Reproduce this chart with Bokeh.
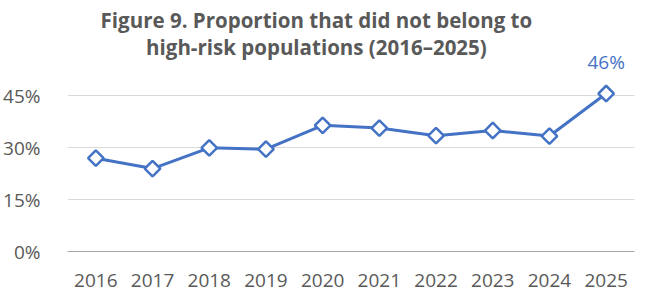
from bokeh.plotting import figure
from bokeh.models import ColumnDataSource, Range1d, FixedTicker, PrintfTickFormatter, Label
from bokeh.core.properties import value
from bokeh.embed import file_html
from bokeh.resources import INLINE

years = ["2016", "2017", "2018", "2019", "2020", "2021", "2022", "2023", "2024", "2025"]
proportion = [27, 24, 30, 29.6, 36.5, 35.7, 33.5, 35.0, 33.4, 45.7]
y_ticks = [0, 15, 30, 45]
title_lines = ["Figure 9. Proportion that did not belong to", "high-risk populations (2016\u20132025)"]

FONT = "Open Sans"
BLUE = "#4472C4"
GRAY = "#595959"

src = ColumnDataSource(dict(x=years, y=proportion))
last = ColumnDataSource(dict(x=[years[-1]], y=[proportion[-1]], t=[f"{round(proportion[-1])}%"]))

p = figure(width=656, height=293, x_range=years, y_range=Range1d(0, 70.3),
           output_backend="svg", toolbar_location=None,
           min_border_left=65, min_border_right=22, min_border_top=8, min_border_bottom=42)
p.x_range.range_padding = 0
p.outline_line_color = None
p.background_fill_color = "white"

p.line("x", "y", source=src, line_color=BLUE, line_width=3)
p.scatter("x", "y", source=src, marker="square", angle=0.785398, size=11,
          fill_color="white", line_color=BLUE, line_width=2.5)
p.text("x", "y", text="t", source=last, text_color=BLUE, text_font=value(FONT),
       text_font_size="19px", text_align="center", text_baseline="middle", y_offset=-32)

p.xgrid.grid_line_color = None
p.ygrid.ticker = FixedTicker(ticks=y_ticks)
p.ygrid.grid_line_color = "#d9d9d9"
p.ygrid.grid_line_width = 1

p.yaxis.ticker = FixedTicker(ticks=y_ticks)
p.yaxis.formatter = PrintfTickFormatter(format="%d%%")
p.yaxis.axis_line_color = None
p.yaxis.major_tick_line_color = None
p.yaxis.minor_tick_line_color = None
p.yaxis.major_label_text_font = FONT
p.yaxis.major_label_text_font_size = "19px"
p.yaxis.major_label_text_color = GRAY
p.yaxis.major_label_standoff = 21

p.xaxis.axis_line_color = "#a6a6a6"
p.xaxis.axis_line_width = 1
p.xaxis.major_tick_line_color = None
p.xaxis.minor_tick_line_color = None
p.xaxis.major_label_text_font = FONT
p.xaxis.major_label_text_font_size = "19px"
p.xaxis.major_label_text_color = GRAY
p.xaxis.major_label_standoff = 16

for i, (line, yy) in enumerate(zip(title_lines, [66.9, 59.1])):
    p.add_layout(Label(x=4.39, y=yy, text=line, text_font=FONT, text_font_size="20.5px",
                       text_font_style="bold", text_color=GRAY, text_align="center",
                       text_baseline="middle"))

open("out.html", "w").write(file_html(p, INLINE))
